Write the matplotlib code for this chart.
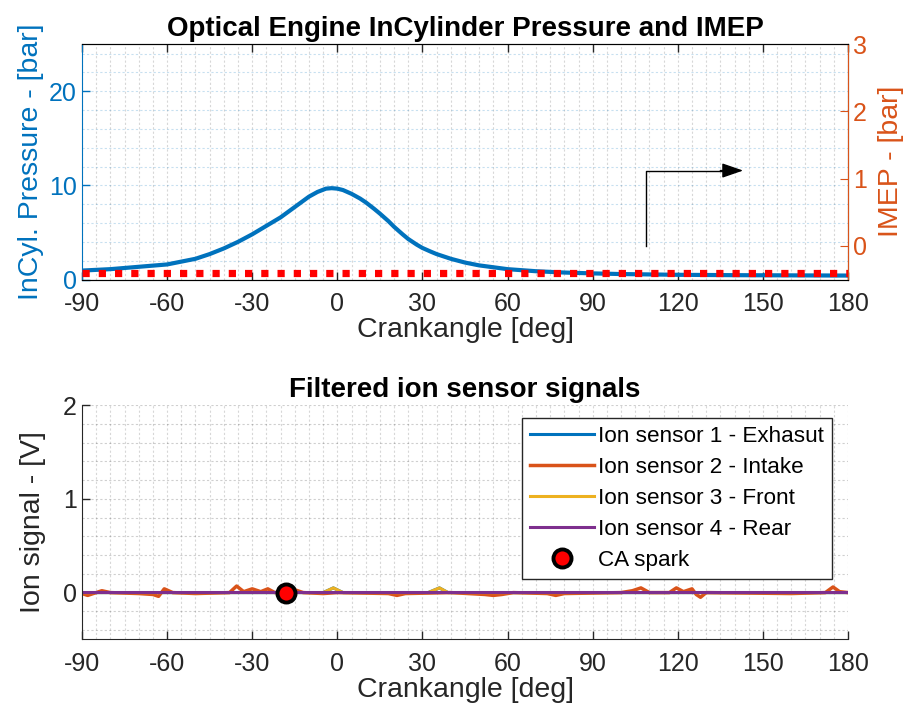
import numpy as np
import matplotlib
matplotlib.use('Agg')
import matplotlib.pyplot as plt
from matplotlib.ticker import MultipleLocator

plt.rcParams['font.family'] = ['Liberation Sans', 'DejaVu Sans']
plt.rcParams['axes.unicode_minus'] = False

# colours (matlab default order)
c_blue = (0, 0.447, 0.741)
c_orange = (0.85, 0.325, 0.098)
c_yellow = (0.929, 0.694, 0.125)
c_purple = (0.494, 0.184, 0.556)
c_axis = (0.15, 0.15, 0.15)

# in-cylinder pressure
p_ca = [-90, -80, -70, -60, -55, -50, -45, -40, -35, -30, -25, -20, -15, -10, -7, -4, -2, 0, 2, 5, 8, 10, 13, 15, 18, 20, 23, 25, 28, 30, 33, 35, 40, 45, 50, 55, 60, 70, 80, 90, 100, 120, 140, 160, 180]
p_bar = [0.95, 1.1, 1.35, 1.6, 1.9, 2.2, 2.7, 3.3, 4.0, 4.8, 5.7, 6.6, 7.7, 8.8, 9.3, 9.65, 9.7, 9.65, 9.5, 9.1, 8.6, 8.2, 7.5, 7.0, 6.2, 5.6, 4.8, 4.3, 3.7, 3.35, 2.95, 2.7, 2.2, 1.8, 1.5, 1.3, 1.1, 0.88, 0.74, 0.65, 0.58, 0.5, 0.46, 0.44, 0.42]

# IMEP trace (right axis)
imep_ca = [-90, 180]
imep_bar = [-0.41, -0.41]

# arrow annotation (right axis units)
arrow_x = [108.7, 108.7, 144]
arrow_y = [0, 1.12, 1.12]

# ion sensor signals
ion1_ca = [-90, -5, -1.4, 2, 32, 36, 39, 180]
ion1_v = [0, 0, 0.05, 0, 0, 0.05, 0, 0]
ion2_ca = [-90, -88, -86, -83, -80, -70, -65, -63, -61, -58, -50, -38, -35.5, -33, -30, -27, -24.5, -22, -17, -15, -12, -5, 0, 18, 21, 24, 40, 52, 55, 58, 62, 74, 77, 80, 100, 104, 107, 110, 117, 119.5, 122, 125, 126.5, 128, 130, 160, 172, 174.7, 177, 180]
ion2_v = [-0.01, -0.03, -0.01, 0.02, 0, -0.01, -0.02, -0.04, 0.04, 0, -0.01, 0, 0.07, 0.01, 0.04, 0.01, 0.04, 0, 0.02, 0.03, 0, -0.01, 0, -0.01, -0.03, -0.01, 0, -0.02, -0.03, -0.02, 0, -0.01, -0.03, -0.01, 0, 0.02, 0.05, 0, 0, 0.05, 0.01, 0.04, -0.02, -0.05, 0, -0.01, 0, 0.06, 0.01, 0]
ion3_ca = [-90, -5, -1.4, 2, 32, 36, 39, 180]
ion3_v = [0, 0, 0.05, 0, 0, 0.05, 0, 0]
ion4_ca = [-90, 180]
ion4_v = [0.005, 0.005]
ion_labels = ['Ion sensor 1 - Exhasut', 'Ion sensor 2 - Intake', 'Ion sensor 3 - Front', 'Ion sensor 4 - Rear']

spark_ca = [-18]
spark_v = [0]

xticks = np.arange(-90, 181, 30)

fig = plt.figure(figsize=(9.17, 7.23), dpi=100)

def style_grid(ax, ycol):
    ax.xaxis.set_minor_locator(MultipleLocator(5))
    ax.grid(True, which='both', axis='x', color=(0.15, 0.15, 0.15), alpha=0.18, linestyle=(0, (2, 2)), lw=0.8)
    ax.grid(True, which='both', axis='y', color=ycol, alpha=0.22, linestyle=(0, (2, 2)), lw=0.8)
    ax.tick_params(which='minor', length=0)
    ax.tick_params(which='major', direction='in', length=6, labelsize=18, width=1)
    ax.tick_params(axis='x', pad=9)
    ax.set_axisbelow(True)

# ---- top: pressure + IMEP
ax1 = fig.add_axes([0.0894, 0.6134, 0.8354, 0.3256])
ax1.plot(p_ca, p_bar, color=c_blue, lw=3, solid_joinstyle='round')
ax1.set_xlim(-90, 180)
ax1.set_ylim(0, 25)
ax1.set_xticks(xticks)
ax1.set_yticks([0, 10, 20])
ax1.yaxis.set_minor_locator(MultipleLocator(2))
style_grid(ax1, c_blue)
ax1.tick_params(axis='x', top=True, colors=c_axis)
ax1.tick_params(axis='y', colors=c_blue)
ax1.spines['left'].set_color(c_blue)
for s in ['top', 'bottom']:
    ax1.spines[s].set_color(c_axis)
ax1.set_xlabel('Crankangle [deg]', fontsize=20.5, color=c_axis, labelpad=1)
ax1.set_ylabel('InCyl. Pressure - [bar]', fontsize=20.5, color=c_blue, labelpad=4)
ax1.set_title('Optical Engine InCylinder Pressure and IMEP', fontsize=20, fontweight='bold', pad=6)

ax2 = ax1.twinx()
ax2.plot(imep_ca, imep_bar, color='red', lw=5.2, linestyle=(0, (1, 1.25)), dash_capstyle='butt')
ax2.set_ylim(-0.5, 3)
ax2.set_yticks([0, 1, 2, 3])
ax2.tick_params(axis='y', direction='in', length=6, labelsize=18, colors=c_orange)
ax2.spines['right'].set_color(c_orange)
ax2.spines['left'].set_visible(False)
ax2.set_ylabel('IMEP - [bar]', fontsize=20.5, color=c_orange, labelpad=8)
ax2.plot(arrow_x[:2] + [arrow_x[2] - 4], arrow_y, color='k', lw=1)
ax2.annotate('', xy=(arrow_x[2], arrow_y[2]), xytext=(arrow_x[2] - 10, arrow_y[2]),
             arrowprops=dict(arrowstyle='-|>,head_length=1.3,head_width=0.45', color='k', lw=1))

# ---- bottom: ion signals
ax3 = fig.add_axes([0.0894, 0.1155, 0.8354, 0.3243])
ax3.plot(ion1_ca, ion1_v, color=c_blue, lw=2.2, label=ion_labels[0])
ax3.plot(ion2_ca, ion2_v, color=c_orange, lw=2.5, solid_joinstyle='round', label=ion_labels[1])
ax3.plot(ion3_ca, ion3_v, color=c_yellow, lw=2.2, label=ion_labels[2])
ax3.plot(ion4_ca, ion4_v, color=c_purple, lw=2.2, label=ion_labels[3])
ax3.plot(spark_ca, spark_v, 'o', mfc='red', mec='k', ms=13, mew=2.8, label='CA spark')
ax3.set_xlim(-90, 180)
ax3.set_ylim(-0.5, 2)
ax3.set_xticks(xticks)
ax3.set_yticks([0, 1, 2])
ax3.yaxis.set_minor_locator(MultipleLocator(0.2))
style_grid(ax3, (0.15, 0.15, 0.15))
ax3.tick_params(colors=c_axis)
ax3.spines['top'].set_visible(False)
ax3.spines['right'].set_visible(False)
for s in ['left', 'bottom']:
    ax3.spines[s].set_color(c_axis)
ax3.set_xlabel('Crankangle [deg]', fontsize=20.5, color=c_axis, labelpad=1)
ax3.set_ylabel('Ion signal - [V]', fontsize=20.5, color=c_axis, labelpad=12)
ax3.set_title('Filtered ion sensor signals', fontsize=20, fontweight='bold', pad=6)
leg = ax3.legend(loc='upper right', bbox_to_anchor=(0.979, 0.945), borderaxespad=0, fontsize=16.2,
                 frameon=True, fancybox=False, framealpha=1, edgecolor=c_axis, handlelength=2.85,
                 labelspacing=0.45, handletextpad=0.2, borderpad=0.35)
leg.get_frame().set_linewidth(1)

fig.savefig('out.png', dpi=100)
